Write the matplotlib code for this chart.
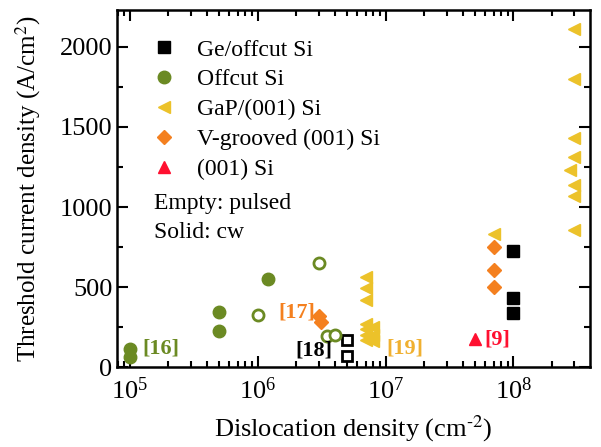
import numpy as np
import matplotlib
matplotlib.use("Agg")
import matplotlib.pyplot as plt
from matplotlib.lines import Line2D

plt.rcParams['font.family'] = ['Liberation Serif', 'DejaVu Serif']
plt.rcParams['mathtext.fontset'] = 'stix'

# colours
c_ge = 'black'
c_off = '#6b8a23'
c_gap = '#ecc22a'
c_vg = '#f4801f'
c_si = '#ff1030'

# Ge/offcut Si
ge_cw_x = [1e8, 1e8, 1e8]
ge_cw_y = [725, 430, 340]
ge_p_x = [5e6, 5e6]
ge_p_y = [172, 72]

# Offcut Si
off_cw_x = [1e5, 1e5, 5e5, 5e5, 1.2e6]
off_cw_y = [115, 65, 345, 230, 550]
off_p_x = [1e6, 3e6, 3.5e6, 4e6]
off_p_y = [330, 650, 195, 200]

# GaP/(001) Si
gap_x = [3e8, 3e8, 3e8, 3e8, 2.75e8, 3e8, 3e8, 3e8, 7e7,
         7e6, 7e6, 7e6, 7e6, 7e6, 7e6, 7e6, 8e6, 8e6, 8e6]
gap_y = [2110, 1800, 1430, 1310, 1230, 1140, 1070, 860, 830,
         565, 495, 420, 270, 240, 205, 170, 250, 205, 165]

# V-grooved (001) Si
vg_x = [7e7, 7e7, 7e7, 3e6, 3.1e6]
vg_y = [750, 606, 500, 320, 285]

# (001) Si
si_x = [5e7]
si_y = [180]

# reference tags: text, x, y, colour
refs = [('[16]', 1.26e5, 120, c_off),
        ('[17]', 1.45e6, 345, c_vg),
        ('[18]', 1.95e6, 105, 'black'),
        ('[19]', 1.02e7, 119, '#f0b030'),
        ('[9]', 5.9e7, 172, c_si)]

fig = plt.figure(figsize=(6.01, 4.47), dpi=100)
ax = fig.add_axes([0.195, 0.178, 0.787, 0.8])

ms = 8
ax.plot(ge_cw_x, ge_cw_y, 's', color=c_ge, ms=ms, ls='none')
ax.plot(ge_p_x, ge_p_y, 's', mfc='white', mec=c_ge, mew=2, ms=ms - 1, ls='none')
ax.plot(off_cw_x, off_cw_y, 'o', color=c_off, ms=ms + 1, ls='none')
ax.plot(off_p_x, off_p_y, 'o', mfc='white', mec=c_off, mew=2, ms=ms, ls='none')
ax.plot(gap_x, gap_y, '<', color=c_gap, ms=ms + 1, ls='none')
ax.plot(vg_x, vg_y, 'D', color=c_vg, ms=ms - 1, ls='none')
ax.plot(si_x, si_y, '^', color=c_si, ms=ms + 1, ls='none')

ax.set_xscale('log')
ax.set_xlim(10 ** 4.9, 10 ** 8.6)
ax.set_ylim(0, 2230)
ax.set_yticks([0, 500, 1000, 1500, 2000])
ax.set_yticks([250, 750, 1250, 1750], minor=True)

ax.tick_params(which='both', direction='in', top=True, right=True, width=1.5, labelsize=19)
ax.tick_params(which='major', length=8)
ax.tick_params(which='minor', length=4)
ax.tick_params(axis='x', pad=7)
for s in ax.spines.values():
    s.set_linewidth(1.8)

ax.set_xlabel('Dislocation density (cm$^{\\text{-2}}$)', fontsize=19, labelpad=7)
ax.set_ylabel('Threshold current density (A/cm$^2$)', fontsize=18, labelpad=12)

handles = [
    Line2D([], [], marker='s', color=c_ge, ls='none', ms=ms),
    Line2D([], [], marker='o', color=c_off, ls='none', ms=ms + 1),
    Line2D([], [], marker='<', color=c_gap, ls='none', ms=ms + 1),
    Line2D([], [], marker='D', color=c_vg, ls='none', ms=ms - 1),
    Line2D([], [], marker='^', color=c_si, ls='none', ms=ms + 1),
]
labels = ['Ge/offcut Si', 'Offcut Si', 'GaP/(001) Si', 'V-grooved (001) Si', '(001) Si']
ax.legend(handles, labels, loc='upper left', bbox_to_anchor=(0.074, 0.918), frameon=False,
          fontsize=17, handlelength=1.0, handletextpad=0.9, labelspacing=0.35,
          borderpad=0, borderaxespad=0)

ax.text(0.078, 0.459, 'Empty: pulsed', transform=ax.transAxes, fontsize=17, va='center')
ax.text(0.078, 0.378, 'Solid: cw', transform=ax.transAxes, fontsize=17, va='center')

for txt, x, y, col in refs:
    ax.text(x, y, txt, color=col, fontsize=16, fontweight='bold', va='center')

fig.savefig('out.png', dpi=100)
